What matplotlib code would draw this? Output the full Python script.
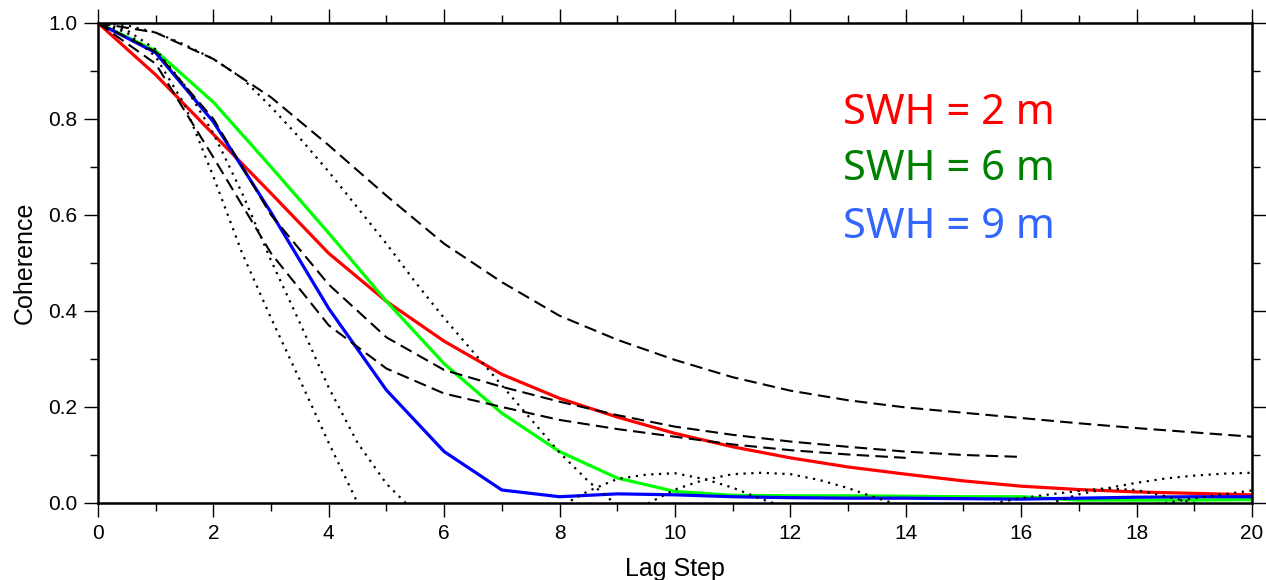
import numpy as np
import matplotlib.pyplot as plt
from matplotlib.ticker import MultipleLocator

# lag steps
lag = np.arange(0, 21)
lag_fine = np.arange(0, 20.5, 0.5)

# coherence, solid coloured curves (SWH = 2, 6, 9 m)
swh2 = [1.0, 0.892, 0.768, 0.645, 0.52, 0.42, 0.337, 0.268, 0.218, 0.179, 0.145,
        0.117, 0.094, 0.075, 0.06, 0.046, 0.035, 0.028, 0.023, 0.02, 0.017]
swh6 = [1.0, 0.942, 0.835, 0.70, 0.562, 0.42, 0.29, 0.187, 0.107, 0.052, 0.024,
        0.016, 0.015, 0.015, 0.014, 0.013, 0.013, 0.006, 0.006, 0.006, 0.007]
swh9 = [1.0, 0.938, 0.794, 0.605, 0.405, 0.235, 0.107, 0.027, 0.013, 0.019, 0.017,
        0.013, 0.011, 0.010, 0.010, 0.009, 0.008, 0.010, 0.012, 0.013, 0.013]

# black dashed curves
dash1 = [1.0, 0.98, 0.925, 0.845, 0.745, 0.64, 0.54, 0.46, 0.39, 0.34, 0.298,
         0.262, 0.234, 0.214, 0.199, 0.188, 0.177, 0.166, 0.156, 0.147, 0.138]
dash2 = [1.0, 0.94, 0.80, 0.60, 0.455, 0.345, 0.277, 0.242, 0.211, 0.183, 0.159,
         0.142, 0.128, 0.117, 0.107, 0.10, 0.096]
dash3 = [1.0, 0.915, 0.72, 0.52, 0.37, 0.28, 0.228, 0.20, 0.173, 0.154, 0.138,
         0.122, 0.11, 0.101, 0.094]

# black dotted curves (half-step), values below 0 are cut by the axis
dot1 = [1.0, 0.98, 0.93, 0.83, 0.68, 0.52, 0.385, 0.256, 0.125, 0.0, -0.04,
        -0.06, -0.07, -0.065, -0.05, -0.03, -0.008, 0.025, 0.05, 0.059, 0.062,
        0.05, 0.032, 0.008, -0.012, -0.025, -0.03, -0.03, -0.025, -0.018, -0.012,
        -0.007, -0.004, -0.001, 0.018, 0.03, 0.027, 0.014, 0.0, -0.01, -0.015]
dot2 = [1.0, 0.985, 0.945, 0.87, 0.77, 0.645, 0.505, 0.375, 0.24, 0.125, 0.04,
        -0.02, -0.05, -0.065, -0.07, -0.065, -0.05, -0.035, -0.018, -0.003, 0.028,
        0.048, 0.06, 0.063, 0.06, 0.048, 0.031, 0.01, -0.008, -0.02, -0.028,
        -0.032, -0.032, -0.028, -0.02, -0.012, -0.005, 0.0, 0.01, 0.018, 0.026]
dot3 = [1.0, 0.995, 0.98, 0.955, 0.925, 0.885, 0.825, 0.76, 0.69, 0.615, 0.54,
        0.46, 0.385, 0.315, 0.245, 0.175, 0.105, 0.045, -0.005, -0.04, -0.06,
        -0.075, -0.08, -0.08, -0.075, -0.065, -0.055, -0.04, -0.03, -0.018, -0.008,
        -0.001, 0.01, 0.018, 0.025, 0.031, 0.042, 0.051, 0.057, 0.061, 0.063]

labels = ['SWH = 2 m', 'SWH = 6 m', 'SWH = 9 m']
label_colors = ['#ff0000', '#008000', '#3366ff']

plt.rcParams['font.family'] = ['Liberation Sans', 'DejaVu Sans']

fig = plt.figure(figsize=(12.66, 5.80), dpi=100)
ax = fig.add_axes([0.0774, 0.1328, 0.9115, 0.8276])

ax.plot(lag, swh2, color='#ff0000', lw=2.3, zorder=2)
ax.plot(lag, swh6, color='#00ff00', lw=2.3, zorder=2)
ax.plot(lag, swh9, color='#0000ff', lw=2.3, zorder=2)

dash = (0, (6, 3))
ax.plot(lag, dash1, color='black', lw=1.5, ls=dash, zorder=3)
ax.plot(lag[:len(dash2)], dash2, color='black', lw=1.5, ls=dash, zorder=3)
ax.plot(lag[:len(dash3)], dash3, color='black', lw=1.5, ls=dash, zorder=3)

dot = (0, (1, 2.5))
for d in (dot1, dot2, dot3):
    ax.plot(lag_fine, d, color='black', lw=1.6, ls=dot, zorder=3)

ax.set_xlim(0, 20)
ax.set_ylim(0, 1)
ax.xaxis.set_major_locator(MultipleLocator(2))
ax.xaxis.set_minor_locator(MultipleLocator(1))
ax.yaxis.set_major_locator(MultipleLocator(0.2))
ax.yaxis.set_minor_locator(MultipleLocator(0.1))
ax.yaxis.set_major_formatter(lambda v, p: '%.1f' % v)

ax.tick_params(which='both', direction='out', top=True, right=True,
               width=1.0, labelsize=15, pad=5)
ax.tick_params(which='major', length=10)
ax.tick_params(which='minor', length=5.5)
for s in ax.spines.values():
    s.set_linewidth(1.8)

ax.set_xlabel('Lag Step', fontsize=18)
ax.set_ylabel('Coherence', fontsize=18)
ax.xaxis.set_label_coords(0.5, -0.113)
ax.yaxis.set_label_coords(-0.053, 0.5)

ys = [0.79, 0.673, 0.552]
for t, c, y in zip(labels, label_colors, ys):
    ax.text(0.6456, y, t, color=c, fontsize=30, family='Noto Sans',
            transform=ax.transAxes, va='baseline', ha='left')

fig.savefig('out.png', dpi=100)
